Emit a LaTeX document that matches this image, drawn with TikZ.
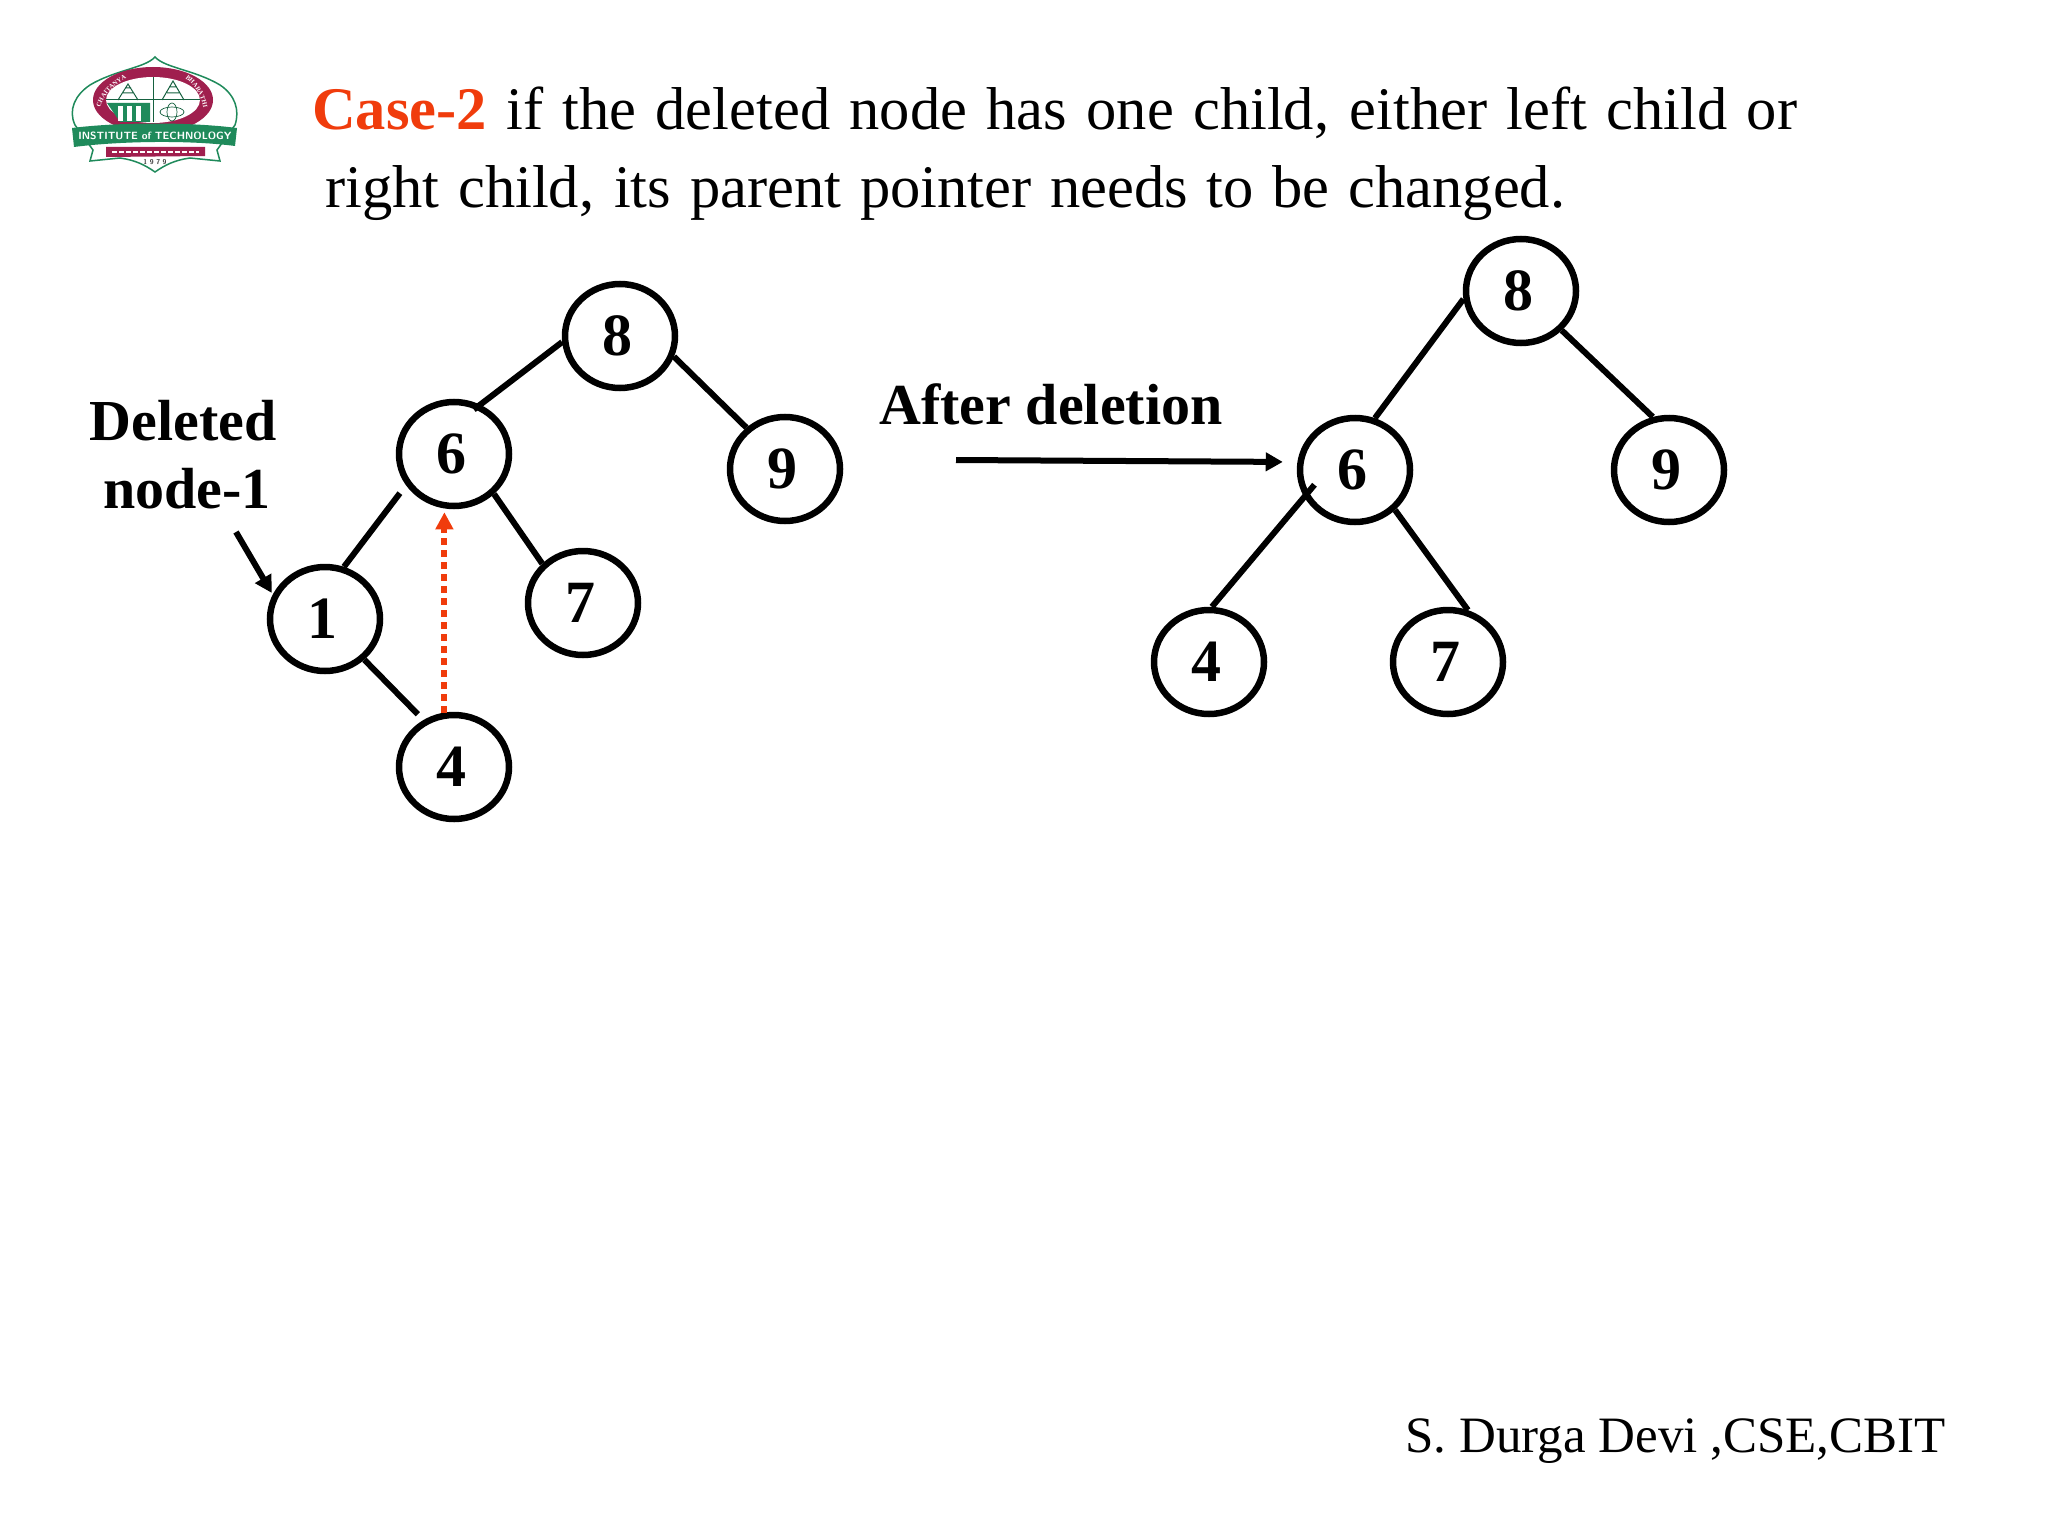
\documentclass[tikz,border=0pt]{standalone}
\usepackage{fontspec}
\setmainfont{Liberation Serif}
\usetikzlibrary{shapes.geometric,arrows.meta,decorations.text}
\definecolor{caseRed}{HTML}{F03C0C}
\definecolor{logoRed}{HTML}{A01F4E}
\definecolor{logoGreen}{HTML}{1F8A5B}
\newcommand{\digitlabel}[1]{\raisebox{-8pt}{\kern-6pt\fontsize{60}{60}\selectfont\bfseries #1}}
\tikzset{
  x=1pt,y=-1pt,
  treenode/.style={ellipse,draw=black,line width=6.5pt,fill=none,minimum width=110pt,minimum height=104pt,inner sep=0pt},
  edge/.style={line width=6pt,draw=black},
  pointer/.style={line width=6pt,draw=black,-{Triangle[length=17pt,width=18pt]}},
  moved/.style={line width=6pt,draw=caseRed,dash pattern=on 7pt off 5pt,-{Triangle[length=17pt,width=17pt]}},
  title/.style={anchor=base west,inner sep=0pt,font=\fontsize{60.5}{60.5}\selectfont},
  bold/.style={anchor=base,inner sep=0pt,font=\fontsize{58}{58}\selectfont\bfseries},
}
\begin{document}
\begin{tikzpicture}
\useasboundingbox (0,0) rectangle (2048,1536);
\fill[white] (0,0) rectangle (2048,1536);

% logo
\fill[white,draw=logoGreen,line width=1.5pt] (155,57) .. controls (165,68) and (195,70) .. (220,85)
  .. controls (235,95) and (240,110) .. (235,125) -- (217,150) -- (220,161) -- (190,158)
  .. controls (175,160) and (165,165) .. (155,172) .. controls (145,165) and (135,160) .. (120,158)
  -- (90,161) -- (93,150) -- (75,125) .. controls (68,110) and (75,95) .. (90,85)
  .. controls (115,70) and (145,68) .. (155,57) -- cycle;
\fill[logoRed] (153,100) ellipse (60 and 33);
\fill[white] (153,100) ellipse (47 and 23);
\draw[logoGreen!70!black,line width=1pt] (153,77) -- (153,122) (106,100) -- (200,100);
\draw[logoGreen!70!black,line width=1pt] (118,100) -- (128,84) -- (138,100) (122,93) -- (134,93) (125,88) -- (131,88);
\draw[logoGreen!70!black,line width=1pt] (162,100) -- (173,81) -- (184,100) (167,93) -- (179,93) (170,87) -- (176,87);
\fill[logoGreen] (107,103) -- (150,103) -- (150,122) -- (120,122) -- cycle;
\foreach \xs in {118,127,136}{\fill[white] (\xs,106) rectangle ++(5,15);}
\draw[logoGreen!70!black,line width=.7pt] (172,112) ellipse (12 and 5) (172,112) ellipse (5 and 9);
\path[decorate,decoration={text along path,text align=center,
  text={|\fontsize{6.5}{6.5}\selectfont\color{white}\bfseries|CHAITANYA}}]
  (98,118) .. controls (100,98) and (112,84) .. (136,74);
\path[decorate,decoration={text along path,text align=center,
  text={|\fontsize{6.5}{6.5}\selectfont\color{white}\bfseries|BHARATHI}}]
  (178,74) .. controls (195,82) and (204,98) .. (204,116);
\fill[logoGreen] (72,128) .. controls (120,122) and (190,122) .. (237,128) -- (235,146) .. controls (190,140) and (120,141) .. (74,147) -- cycle;
\node[inner sep=0pt,white,font=\sffamily\bfseries\fontsize{10.5}{10.5}\selectfont] (logoband) at (155,136) {INSTITUTE of TECHNOLOGY};
\fill[logoRed] (106,147) -- (205,147) -- (205,156) -- (106,157) -- cycle;
\draw[white,line width=2pt,dash pattern=on 5pt off 2pt] (112,152) -- (199,152);
\node[inner sep=0pt,black!75,font=\sffamily\bfseries\fontsize{7}{7}\selectfont] (logoyr) at (155,162) {1 9 7 9};

% heading
\node[title] (line1) at (312,130) {\makebox[1485pt][s]{\textcolor{caseRed}{\bfseries Case-2} if the deleted node has one child, either left child or}};
\node[title] (line2) at (325,207) {\makebox[1240pt][s]{right child, its parent pointer needs to be changed.}};

% left tree
\node[treenode] (a8) at (620,336) {\digitlabel{8}};
\node[treenode] (a6) at (454,454) {\digitlabel{6}};
\node[treenode] (a9) at (785,469) {\digitlabel{9}};
\node[treenode] (a1) at (325,619) {\digitlabel{1}};
\node[treenode] (a7) at (583,603) {\digitlabel{7}};
\node[treenode] (a4) at (454,767) {\digitlabel{4}};
\draw[edge,shorten >=-8pt] (a8.186) -- (a6.62);
\draw[edge] (a8.-21) -- (a9.133);
\draw[edge,shorten <=10pt] (a6.213) -- (a1.70);
\draw[edge] (a6.-45) -- (a7.136);
\draw[edge,shorten >=8pt] (a1.-46) -- (a4.123);
\draw[moved,shorten >=3pt] (a4.100) -- (a4.100 |- a6.south);

\node[bold] (deleted) at (183,440) {Deleted};
\node[bold] (nodeone) at (187,508) {node-1};
\coordinate (delstart) at (236,532);
\draw[pointer,shorten >=2pt] (delstart) -- (a1.155);

% right tree
\node[treenode] (b8) at (1521,291) {\digitlabel{8}};
\node[treenode] (b6) at (1355,470) {\digitlabel{6}};
\node[treenode] (b9) at (1669,470) {\digitlabel{9}};
\node[treenode] (b4) at (1209,662) {\digitlabel{4}};
\node[treenode] (b7) at (1448,662) {\digitlabel{7}};
\draw[edge] (b8.188) -- (b6.69);
\draw[edge] (b8.-44) -- (b9.107);
\draw[edge,shorten <=-16pt] (b6.208) -- (b4.87);
\draw[edge] (b6.-45) -- (b7.69);

\node[bold] (after) at (1051,424) {After deletion};
\coordinate (aftstart) at (956,460);
\draw[pointer,shorten >=14pt] (aftstart) -- (b6.west |- 0,462);

% footer
\node[anchor=base east,inner sep=0pt,font=\fontsize{51}{51}\selectfont] (footer) at (1946,1452) {S. Durga Devi ,CSE,CBIT};
\end{tikzpicture}
\end{document}
